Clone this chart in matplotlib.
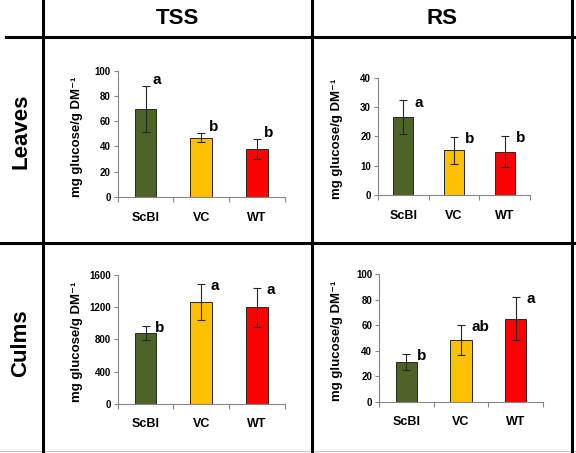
import numpy as np
import matplotlib.pyplot as plt
from matplotlib.lines import Line2D

plt.rcParams['font.family'] = ['Liberation Sans', 'DejaVu Sans']
plt.rcParams['font.weight'] = 'bold'

groups = ['ScBI', 'VC', 'WT']
colors = ['#4F6228', '#FFC000', '#FF0000']

tss_leaves = [69.5, 47, 38]
tss_leaves_err = [18, 3.3, 8]
tss_leaves_sig = ['a', 'b', 'b']

rs_leaves = [26.5, 15.3, 14.8]
rs_leaves_err = [5.8, 4.6, 5.3]
rs_leaves_sig = ['a', 'b', 'b']

tss_culms = [883, 1268, 1198]
tss_culms_err = [87, 224, 243]
tss_culms_sig = ['b', 'a', 'a']

rs_culms = [30.9, 48.4, 65.2]
rs_culms_err = [6.4, 11.5, 17]
rs_culms_sig = ['b', 'ab', 'a']

W, H = 576, 453

def box(x0, x1, ytop, ybot):
    # pixel box -> figure fraction
    return [x0 / W, 1 - ybot / H, (x1 - x0) / W, (ybot - ytop) / H]

def panel(rect, vals, errs, sig, ymax, step, lab_x, lab_dx, lab_dy):
    ax = fig.add_axes(rect)
    x = np.arange(len(groups))
    ax.bar(x, vals, width=0.39, color=colors, edgecolor='#262626', linewidth=0.7, zorder=2)
    ax.errorbar(x, vals, yerr=errs, fmt='none', ecolor='#262626', elinewidth=0.8,
                capsize=3, capthick=0.8, zorder=3)
    for i in range(len(groups)):
        ax.text(i + lab_dx, vals[i] + errs[i] + lab_dy * ymax, sig[i], fontsize=11,
                fontweight='bold', ha='left', va='center')
    ax.set_xlim(-0.5, 2.5)
    ax.set_ylim(0, ymax)
    ax.set_yticks(np.arange(0, ymax + step / 2, step))
    ax.set_xticks(x)
    ax.set_xticklabels(groups, fontsize=9, fontweight='bold')
    ax.set_xticks([-0.5, 0.5, 1.5, 2.5], minor=True)
    ax.tick_params(axis='x', which='major', length=0, pad=10.5)
    ax.tick_params(axis='x', which='minor', length=3.5, color='#868686', width=0.8)
    ax.tick_params(axis='y', length=3, color='#868686', width=0.8, labelsize=7, pad=2)
    for t in ax.get_yticklabels():
        t.set_fontweight('bold')
    for s in ['top', 'right']:
        ax.spines[s].set_visible(False)
    for s in ['left', 'bottom']:
        ax.spines[s].set_color('#868686')
        ax.spines[s].set_linewidth(0.8)
    ax.set_ylabel('mg glucose/g DM⁻¹', fontsize=9.5, fontweight='bold')
    ax.yaxis.set_label_coords(lab_x, 0.48)
    return ax

fig = plt.figure(figsize=(5.76, 4.53), dpi=100)

panel(box(117.7, 285, 70.7, 197), tss_leaves, tss_leaves_err, tss_leaves_sig, 100, 20, -0.207, 0.13, 0.05)
panel(box(378, 530, 77.7, 195), rs_leaves, rs_leaves_err, rs_leaves_sig, 40, 10, -0.23, 0.22, -0.02)
panel(box(117.7, 285, 275, 403.7), tss_culms, tss_culms_err, tss_culms_sig, 1600, 400, -0.207, 0.17, -0.02)
panel(box(379, 543, 274.3, 401.7), rs_culms, rs_culms_err, rs_culms_sig, 100, 20, -0.22, 0.19, -0.015)

# table grid
def hline(y, x0, x1, c='black', lw=2.2):
    fig.add_artist(Line2D([x0 / W, x1 / W], [1 - y / H, 1 - y / H], color=c, lw=lw,
                          transform=fig.transFigure))

def vline(x, y0, y1, c='black', lw=2.2):
    fig.add_artist(Line2D([x / W, x / W], [1 - y0 / H, 1 - y1 / H], color=c, lw=lw,
                          transform=fig.transFigure))

hline(37, 6, 576)
hline(243, 0, 576)
hline(451, 0, 576, c='#c8c8c8', lw=0.8)
vline(43, 0, 453)
vline(312, 0, 453)
vline(572, 0, 453)

fig.text(177 / W, 1 - 19 / H, 'TSS', fontsize=16, fontweight='bold', ha='center', va='center')
fig.text(442 / W, 1 - 19 / H, 'RS', fontsize=16, fontweight='bold', ha='center', va='center')
fig.text(21 / W, 1 - 131 / H, 'Leaves', fontsize=16, fontweight='bold', rotation=90,
         ha='center', va='center')
fig.text(21 / W, 1 - 343 / H, 'Culms', fontsize=16, fontweight='bold', rotation=90,
         ha='center', va='center')

fig.savefig('out.png', dpi=100)
